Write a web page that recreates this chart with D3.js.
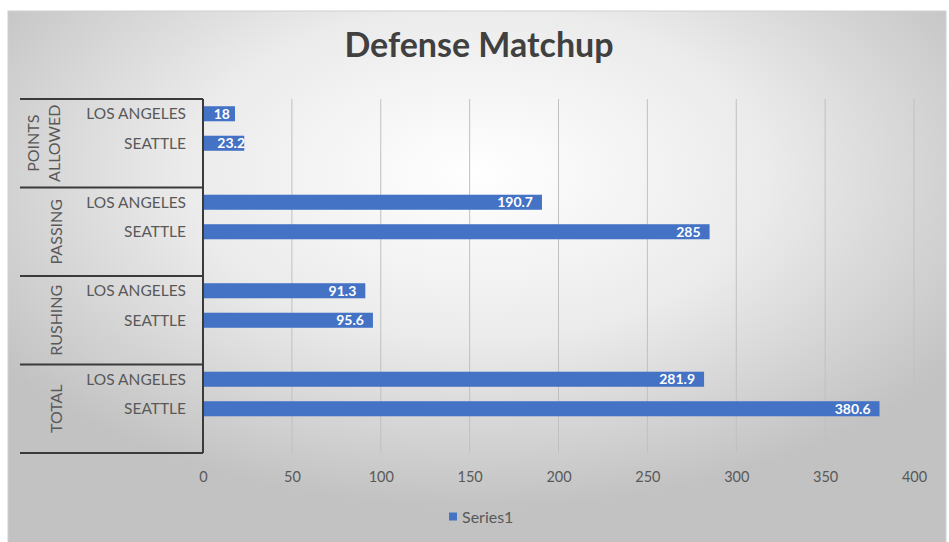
<!DOCTYPE html>
<html><head><meta charset="utf-8">
<script src="https://cdn.jsdelivr.net/npm/d3@7"></script>
<style>html,body{margin:0;padding:0;background:#fff;}svg{display:block;}</style>
</head><body>
<svg id="c" width="949" height="542"></svg>
<script>
const title = "Defense Matchup";
const groups = ["POINTS ALLOWED", "PASSING", "RUSHING", "TOTAL"];
const teams = ["LOS ANGELES", "SEATTLE"];
const losAngeles = [18, 190.7, 91.3, 281.9];
const seattle = [23.2, 285, 95.6, 380.6];
const xTicks = [0, 50, 100, 150, 200, 250, 300, 350, 400];
const seriesName = "Series1";

const rows = [];
groups.forEach((g, i) => {
  rows.push({group: g, team: teams[0], value: losAngeles[i]});
  rows.push({group: g, team: teams[1], value: seattle[i]});
});

const svg = d3.select("#c");
const font = "Lato, 'Open Sans', sans-serif";
const defs = svg.append("defs");
const grad = defs.append("radialGradient").attr("id", "bg")
  .attr("cx", "50%").attr("cy", "30%").attr("r", "62%");
grad.append("stop").attr("offset", "0%").attr("stop-color", "#ffffff");
grad.append("stop").attr("offset", "50%").attr("stop-color", "#ebebeb");
grad.append("stop").attr("offset", "100%").attr("stop-color", "#c2c2c2");

svg.append("rect").attr("x", 8).attr("y", 11).attr("width", 938).attr("height", 540)
  .attr("fill", "url(#bg)").attr("stroke", "#d0d0d0");

const x = d3.scaleLinear().domain([0, 400]).range([203, 914]);
const yG = d3.scaleBand().domain(groups).range([99, 453]).padding(0);
const yT = d3.scaleBand().domain([...teams, ""]).range([0, yG.bandwidth()]).paddingInner(0.49).paddingOuter(0.245);

// gridlines
svg.append("g").selectAll("line").data(xTicks.slice(1)).join("line")
  .attr("x1", d => x(d)).attr("x2", d => x(d))
  .attr("y1", 99).attr("y2", 453)
  .attr("stroke", "#c0c0c0").attr("stroke-width", 1);

// x-axis tick labels
const xAxis = d3.axisBottom(x).tickValues(xTicks).tickSize(0).tickPadding(0);
const xg = svg.append("g").attr("transform", "translate(0,477)").call(xAxis);
xg.select(".domain").remove();
xg.selectAll("text").attr("font-family", font).attr("font-size", 14.5).attr("fill", "#595959").attr("dy", "0.35em");

// bars
const bars = svg.append("g");
bars.selectAll("rect").data(rows).join("rect")
  .attr("x", x(0))
  .attr("y", d => yG(d.group) + yT(d.team))
  .attr("width", d => x(d.value) - x(0))
  .attr("height", yT.bandwidth())
  .attr("fill", "#4472c4");

// value labels
bars.selectAll("text").data(rows).join("text")
  .attr("x", d => Math.max(x(d.value) - 9, x(0) + 12 + String(d.value).length * 7.5))
  .attr("y", d => yG(d.group) + yT(d.team) + yT.bandwidth() / 2)
  .attr("dy", "0.36em")
  .attr("text-anchor", "end")
  .attr("font-family", font).attr("font-size", 14).attr("font-weight", "bold")
  .attr("fill", "#ffffff")
  .text(d => d.value);

// category labels
svg.append("g").selectAll("text").data(rows).join("text")
  .attr("x", 186)
  .attr("y", d => yG(d.group) + yT(d.team) + yT.bandwidth() / 2)
  .attr("dy", "0.36em")
  .attr("text-anchor", "end")
  .attr("font-family", font).attr("font-size", 15.5)
  .attr("fill", "#595959")
  .text(d => d.team);

// group separator lines
const sep = svg.append("g").attr("stroke", "#3a3a3a").attr("stroke-width", 2).attr("fill", "none");
const bounds = groups.map(g => yG(g)).concat([yG(groups[groups.length - 1]) + yG.bandwidth()]);
sep.selectAll("line").data(bounds).join("line")
  .attr("x1", 20).attr("x2", x(0)).attr("y1", d => d).attr("y2", d => d);
sep.append("line").attr("x1", x(0)).attr("x2", x(0)).attr("y1", 99).attr("y2", 453);

// group labels (rotated)
const gl = svg.append("g");
groups.forEach(g => {
  const cy = yG(g) + yG.bandwidth() / 2;
  const words = g.split(" ");
  const t = gl.append("text")
    .attr("transform", `translate(${words.length > 1 ? 44 : 56},${cy}) rotate(-90)`)
    .attr("text-anchor", "middle")
    .attr("font-family", font).attr("font-size", 16)
    .attr("fill", "#595959");
  words.forEach((w, i) => {
    t.append("tspan").attr("x", 0)
      .attr("dy", i === 0 ? (words.length > 1 ? "-0.3em" : "0.36em") : "1.3em")
      .text(w);
  });
});

// title
svg.append("text").attr("x", 479).attr("y", 57)
  .attr("text-anchor", "middle")
  .attr("font-family", font).attr("font-size", 34).attr("font-weight", "bold")
  .attr("fill", "#404040").text(title);

// legend
const lg = svg.append("g").attr("transform", "translate(449,517)");
lg.append("rect").attr("x", 0).attr("y", -4.5).attr("width", 8).attr("height", 8).attr("fill", "#4472c4");
lg.append("text").attr("x", 13).attr("y", 0).attr("dy", "0.35em")
  .attr("font-family", font).attr("font-size", 16).attr("fill", "#595959").text(seriesName);
</script>
</body></html>
